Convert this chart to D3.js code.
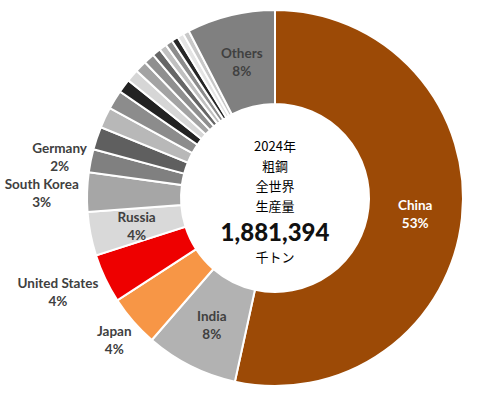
<!DOCTYPE html>
<html>
<head>
<meta charset="utf-8">
<script src="https://cdn.jsdelivr.net/npm/d3@7"></script>
<style>
  body { margin: 0; background: #fff; }
  svg text { font-family: Lato, "Noto Sans", sans-serif; }
</style>
</head>
<body>
<div id="chart"></div>
<script>
// 2024 crude steel production, thousand tonnes
var countries = ["China", "India", "Japan", "United States", "Russia", "South Korea", "Germany",
  "Türkiye", "Brazil", "Iran", "Vietnam", "Italy", "Taiwan", "Indonesia", "Mexico",
  "Canada", "Spain", "France", "Egypt", "Saudi Arabia", "Others"];
var production = [1005089, 149588, 84009, 79452, 70682, 63549, 37234,
  36931, 33734, 31006, 22137, 20035, 19144, 17500, 13696,
  12069, 11852, 10749, 10373, 9953, 142612];
var sliceColors = ["#9c4a06", "#b2b2b2", "#f79646", "#ee0000", "#d9d9d9", "#a6a6a6", "#808080",
  "#5f5f5f", "#b8b8b8", "#8c8c8c", "#222222", "#d6d6d6", "#a3a3a3", "#8f8f8f", "#666666",
  "#c0c0c0", "#8c8c8c", "#262626", "#e4e4e4", "#c8c8c8", "#808080"];
var labelled = ["China", "India", "Japan", "United States", "Russia", "South Korea", "Germany", "Others"];
var outsideLabels = ["Japan", "United States", "South Korea", "Germany"];
var centerLines = ["2024年", "粗鋼", "全世界", "生産量"];
var unitLabel = "千トン";

var W = 495, H = 395;
var cx = 275, cy = 198, rOuter = 188, rInner = 94;

var data = countries.map(function(c, i) {
  return {name: c, value: production[i], color: sliceColors[i]};
});
var total = d3.sum(production);

var svg = d3.select("#chart").append("svg")
  .attr("width", W)
  .attr("height", H);

var g = svg.append("g").attr("transform", "translate(" + cx + "," + cy + ")");

var pie = d3.pie().sort(null).value(function(d) { return d.value; });
var arc = d3.arc().innerRadius(rInner).outerRadius(rOuter);
var arcs = pie(data);

g.selectAll("path.slice")
  .data(arcs)
  .enter().append("path")
  .attr("class", "slice")
  .attr("d", arc)
  .attr("fill", function(d) { return d.data.color; })
  .attr("stroke", "#fff")
  .attr("stroke-width", 2);

// labels
var midArc = d3.arc().innerRadius((rInner + rOuter) / 2).outerRadius((rInner + rOuter) / 2);
var lineH = 18, fs = 13.5;

arcs.filter(function(d) { return labelled.indexOf(d.data.name) >= 0; }).forEach(function(d) {
  var name = d.data.name;
  var pct = Math.round(d.data.value / total * 100) + "%";
  var x, y;
  if (outsideLabels.indexOf(name) >= 0) {
    var a = (d.startAngle + d.endAngle) / 2;
    var r = rOuter + 8;
    var halfW = name.length * 3.4;
    x = Math.sin(a) * r + Math.sin(a) * halfW;
    y = -Math.cos(a) * r - Math.cos(a) * lineH + 2;
  } else {
    var c = midArc.centroid(d);
    x = c[0]; y = c[1] + 1;
  }
  var t = g.append("text")
    .attr("text-anchor", "middle")
    .attr("font-size", fs)
    .attr("font-weight", "bold")
    .attr("fill", name === "China" ? "#fff" : "#404040");
  t.append("tspan").attr("x", x).attr("y", y - lineH / 2 + 5).text(name);
  t.append("tspan").attr("x", x).attr("y", y + lineH / 2 + 5).text(pct);
});

// center text
var cjk = '"Noto Sans CJK JP", sans-serif';
var centerY = [-52, -32, -12, 8];
centerLines.forEach(function(s, i) {
  g.append("text")
    .attr("text-anchor", "middle")
    .attr("x", 0)
    .attr("y", centerY[i] + 5)
    .style("font-family", cjk)
    .attr("font-size", 13)
    .attr("fill", "#000")
    .text(s);
});
g.append("text")
  .attr("text-anchor", "middle")
  .attr("x", 0)
  .attr("y", 43)
  .attr("font-size", 24)
  .attr("font-weight", 900)
  .attr("fill", "#111")
  .style("font-family", "Lato, 'Noto Sans', sans-serif")
  .text(d3.format(",")(total));
g.append("text")
  .attr("text-anchor", "middle")
  .attr("x", 0)
  .attr("y", 64)
  .style("font-family", cjk)
  .attr("font-size", 13)
  .attr("fill", "#000")
  .text(unitLabel);
</script>
</body>
</html>
